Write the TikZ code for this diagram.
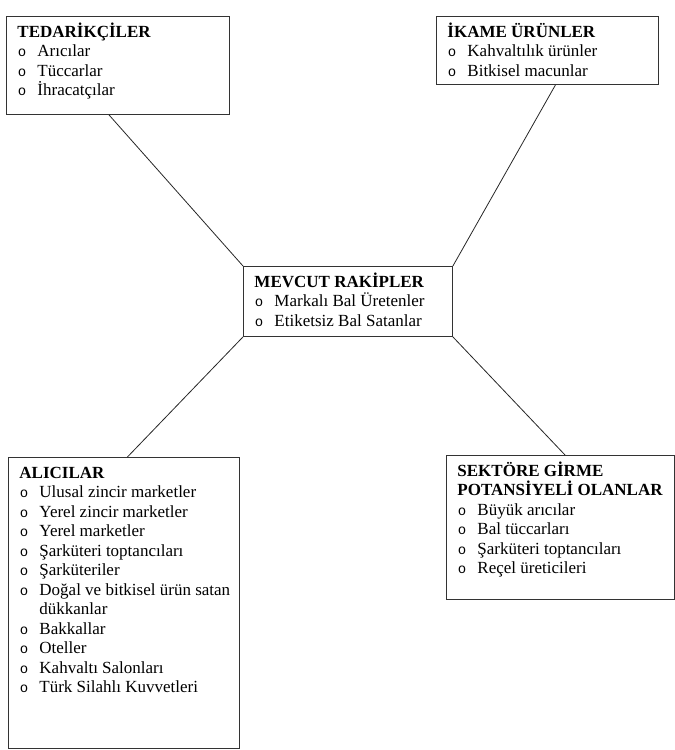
\documentclass[tikz,border=0pt]{standalone}
\usepackage{fontspec}
\setmainfont{Liberation Serif}
\newfontfamily\bulfont{Liberation Mono}
\usepackage{tikz}
\usetikzlibrary{positioning,calc}
\newcommand{\kutuNode}[5]{\node[kutu] (#1) at (#2) {\parbox[t][#4][t]{#3}{\raggedright #5}};}
\newcommand{\baslik}[1]{\textbf{\rule{0pt}{16pt}#1}\par}
\newcommand{\itm}[1]{\noindent\makebox[20pt][l]{\hspace{0.5pt}\bulfont\fontsize{14pt}{19.5pt}\selectfont o}\mbox{#1}\par}
\newcommand{\devam}[1]{\noindent\hspace*{20pt}\mbox{#1}\par}

\begin{document}
\begin{tikzpicture}[x=1pt, y=-1pt,
	kutu/.style={draw=black!80, line width=0.9pt, anchor=north west,
		inner xsep=11pt, inner ysep=5pt, font=\fontsize{17pt}{19.5pt}\selectfont},
	baglanti/.style={draw=black!85, line width=0.8pt}]
	\useasboundingbox (0,0) rectangle (675,750);

	\kutuNode{ted}{6,16}{201pt}{88pt}{\baslik{TEDARİKÇİLER}
		\itm{Arıcılar} \itm{Tüccarlar} \itm{İhracatçılar}}
	\kutuNode{ika}{436,16}{200pt}{58pt}{\baslik{İKAME ÜRÜNLER}
		\itm{Kahvaltılık ürünler} \itm{Bitkisel macunlar}}
	\kutuNode{mev}{243,266}{187pt}{60pt}{\baslik{MEVCUT RAKİPLER}
		\itm{Markalı Bal Üretenler} \itm{Etiketsiz Bal Satanlar}}
	\kutuNode{ali}{8,457}{209pt}{281pt}{\baslik{ALICILAR}
		\itm{Ulusal zincir marketler} \itm{Yerel zincir marketler}
		\itm{Yerel marketler} \itm{Şarküteri toptancıları}
		\itm{Şarküteriler} \itm{Doğal ve bitkisel ürün satan}
		\devam{dükkanlar} \itm{Bakkallar} \itm{Oteller}
		\itm{Kahvaltı Salonları} \itm{Türk Silahlı Kuvvetleri}}
	\kutuNode{sek}{446,455}{206pt}{134pt}{\baslik{SEKTÖRE GİRME\newline POTANSİYELİ OLANLAR}
		\itm{Büyük arıcılar} \itm{Bal tüccarları}
		\itm{Şarküteri toptancıları} \itm{Reçel üreticileri}}

	% baglantilar
	\draw[baglanti] ($(ted.south west)!.46!(ted.south east)$) -- (mev.north west);
	\draw[baglanti] ($(ika.south west)!.536!(ika.south east)$) -- (mev.north east);
	\draw[baglanti] (mev.south west) -- ($(ali.north west)!.515!(ali.north east)$);
	\draw[baglanti] (mev.south east) -- ($(sek.north west)!.52!(sek.north east)$);
\end{tikzpicture}
\end{document}
